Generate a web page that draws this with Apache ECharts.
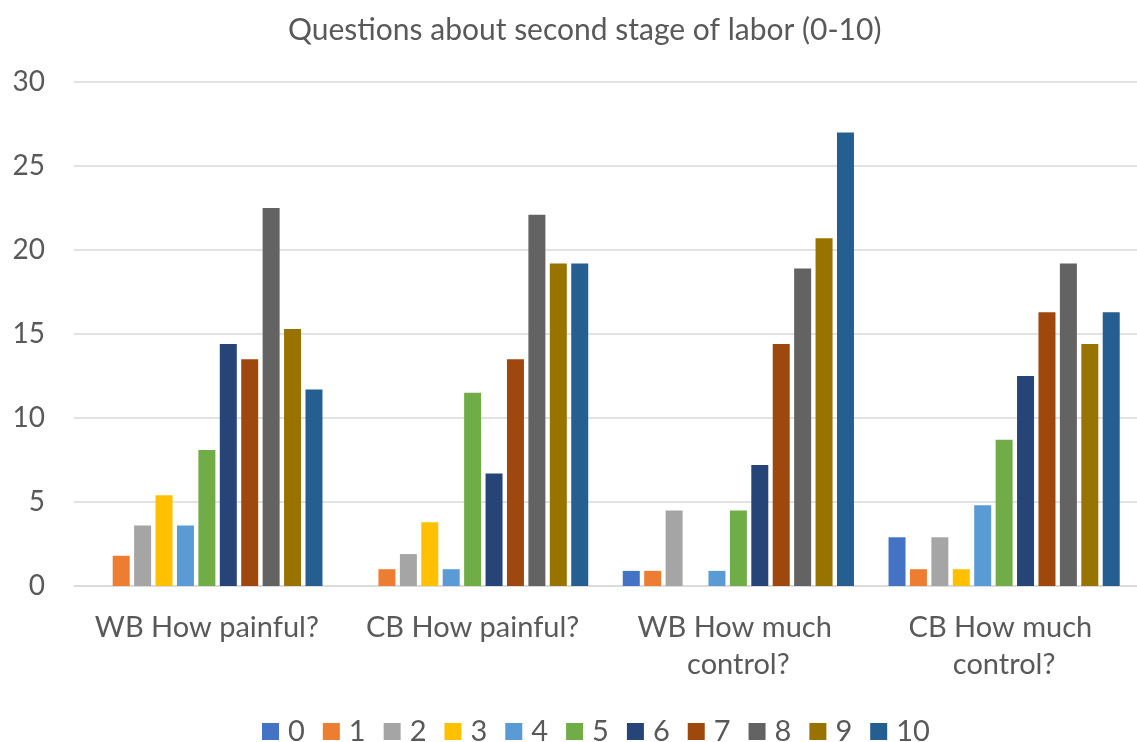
<!DOCTYPE html>
<html>
<head>
<meta charset="utf-8">
<title>Questions about second stage of labor (0-10)</title>
<script src="https://cdn.jsdelivr.net/npm/echarts@6/dist/echarts.min.js"></script>
<style>
  html, body { margin: 0; padding: 0; background: #ffffff; }
  #chart { width: 1137px; height: 742px; }
</style>
</head>
<body>
<div id="chart"></div>
<script>
// Question groups along the x axis
const categories = ['WB How painful?', 'CB How painful?', 'WB How much control?', 'CB How much control?'];

// Answer scores 0-10, one series per score (percent of respondents)
const scoreNames = ['0', '1', '2', '3', '4', '5', '6', '7', '8', '9', '10'];
const score0  = [0,    0,    0.9,  2.9];
const score1  = [1.8,  1.0,  0.9,  1.0];
const score2  = [3.6,  1.9,  4.5,  2.9];
const score3  = [5.4,  3.8,  0,    1.0];
const score4  = [3.6,  1.0,  0.9,  4.8];
const score5  = [8.1,  11.5, 4.5,  8.7];
const score6  = [14.4, 6.7,  7.2,  12.5];
const score7  = [13.5, 13.5, 14.4, 16.3];
const score8  = [22.5, 22.1, 18.9, 19.2];
const score9  = [15.3, 19.2, 20.7, 14.4];
const score10 = [11.7, 19.2, 27.0, 16.3];
const scoreValues = [score0, score1, score2, score3, score4, score5, score6, score7, score8, score9, score10];

// Y axis ticks
const yMin = 0, yMax = 30, yStep = 5;

const palette = ['#4472C4', '#ED7D31', '#A5A5A5', '#FFC000', '#5B9BD5', '#70AD47',
                 '#264478', '#9E480E', '#636363', '#997300', '#255E91'];

const textColor = '#595959';
const fontFamily = 'Lato, "Open Sans", sans-serif';

const series = scoreNames.map((name, i) => ({
  name: name,
  type: 'bar',
  data: scoreValues[i],
  barWidth: 17,
  barGap: '26%',
  itemStyle: { color: palette[i] },
  emphasis: { disabled: true }
}));

const chart = echarts.init(document.getElementById('chart'), null, { renderer: 'canvas' });
chart.setOption({
  animation: false,
  color: palette,
  title: {
    text: 'Questions about second stage of labor (0-10)',
    left: 283,
    top: 10,
    textStyle: { color: textColor, fontFamily: fontFamily, fontWeight: 'normal', fontSize: 30 }
  },
  legend: {
    data: scoreNames,
    left: 257,
    top: 712,
    itemWidth: 17,
    itemHeight: 17,
    itemGap: 18,
    icon: 'rect',
    textStyle: { color: textColor, fontFamily: fontFamily, fontSize: 29, padding: [0, 0, 0, 4] }
  },
  grid: { left: 74, right: -8, top: 82, bottom: 156, containLabel: false },
  xAxis: {
    type: 'category',
    data: categories,
    axisLine: { show: true, lineStyle: { color: '#D9D9D9', width: 1.5 } },
    axisTick: { show: false },
    axisLabel: {
      color: textColor,
      fontFamily: fontFamily,
      fontSize: 29,
      margin: 23,
      lineHeight: 37,
      width: 240,
      overflow: 'break',
      interval: 0
    }
  },
  yAxis: {
    type: 'value',
    min: yMin,
    max: yMax,
    interval: yStep,
    axisLine: { show: false },
    axisTick: { show: false },
    splitLine: { lineStyle: { color: '#D9D9D9', width: 1.5 } },
    axisLabel: { color: textColor, fontFamily: fontFamily, fontSize: 28, margin: 29 }
  },
  series: series
});
</script>
</body>
</html>
